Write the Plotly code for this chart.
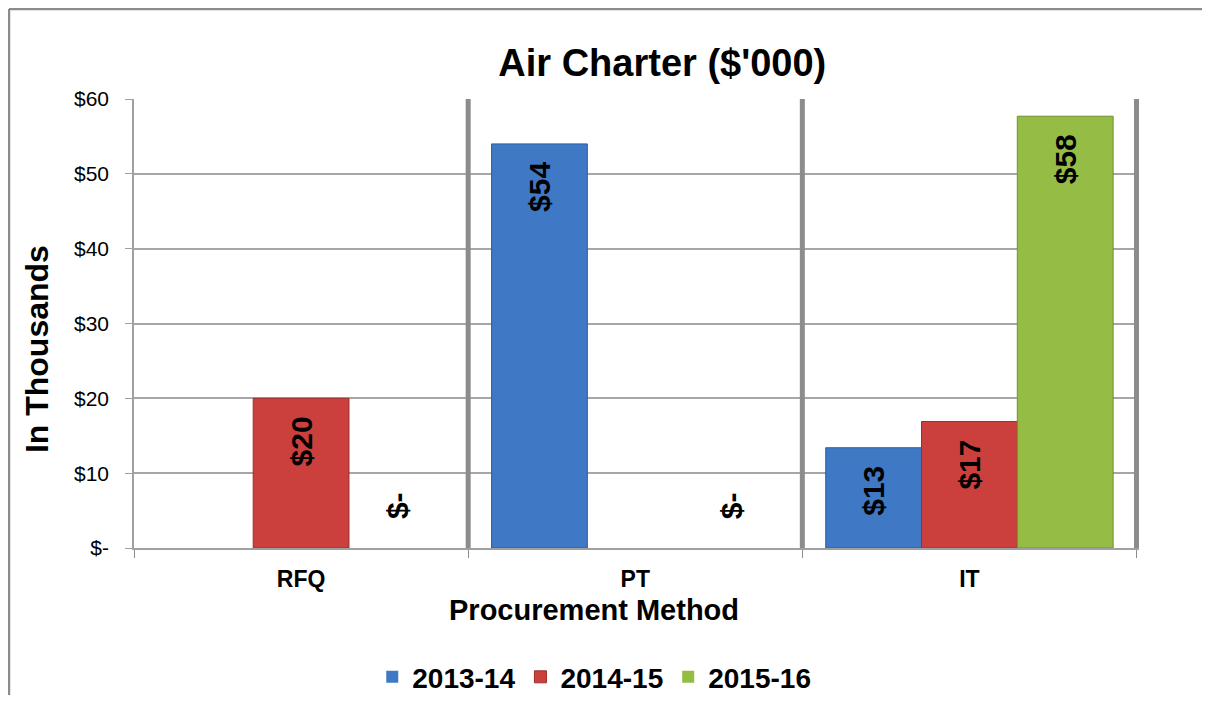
import plotly.graph_objects as go

# values in $'000, None = no bar in that slot
methods = ["RFQ", "PT", "IT"]
years = ["2013-14", "2014-15", "2015-16"]
vals_1314 = [None, 54.0, 13.4]
vals_1415 = [20.0, None, 16.9]
vals_1516 = [0.0, 0.0, 57.7]

colors = ["#3F78C4", "#CB403C", "#95BC45"]
edge_colors = ["#2F5F9E", "#9E2E2B", "#70902F"]

y_ticks = [0, 10, 20, 30, 40, 50, 60]
y_tick_text = ["$-", "$10", "$20", "$30", "$40", "$50", "$60"]

FONT = "Liberation Sans, Arial, sans-serif"


def money(v):
    if v is None:
        return ""
    if v == 0:
        return "$-"
    return "$" + str(int(round(v)))


fig = go.Figure()
series = [vals_1314, vals_1415, vals_1516]
for i, vals in enumerate(series):
    fig.add_trace(go.Bar(
        x=methods, y=vals, name=years[i],
        marker=dict(color=colors[i],
                    line=dict(color=edge_colors[i], width=[1 if v else 0 for v in vals])),
        # trailing en space keeps the label a bit below the bar top, like Excel
        text=[money(v) + "\u2002" if v else "" for v in vals],
        textposition="inside", insidetextanchor="end", textangle=-90,
        constraintext="none",
        textfont=dict(family=FONT, size=30, color="black", weight="bold"),
    ))

# zero values get a "$-" label above the baseline (Excel style)
slot = [-96, 0, 96]
for i, vals in enumerate(series):
    for m, v in zip(methods, vals):
        if v == 0:
            fig.add_annotation(x=m, y=0, xshift=slot[i], yshift=42, text=money(v),
                               textangle=-90, showarrow=False,
                               font=dict(family=FONT, size=30, color="black", weight="bold"))

# thick separators between categories
for xb in [0.5, 1.5, 2.5]:
    fig.add_shape(type="line", xref="x", yref="paper", x0=xb, x1=xb, y0=0, y1=1,
                  line=dict(color="#8C8C8C", width=5), layer="above")

# outer frame (top and left edges visible)
fig.add_shape(type="line", xref="paper", yref="paper", x0=-0.1244, x1=1.08, y0=1.2004, y1=1.2004,
              line=dict(color="#8C8C8C", width=2.5))
fig.add_shape(type="line", xref="paper", yref="paper", x0=-0.1244, x1=-0.1244, y0=1.2004, y1=-0.36,
              line=dict(color="#8C8C8C", width=2.5))

# axis titles placed as in the original (off-centre)
fig.add_annotation(text="<b>In Thousands</b>", xref="paper", yref="paper", x=-0.0965, y=0.443,
                   xanchor="center", yanchor="middle", textangle=-90, showarrow=False,
                   font=dict(family=FONT, size=32, color="black"))
fig.add_annotation(text="<b>Procurement Method</b>", xref="paper", yref="paper", x=0.4577, y=-0.138,
                   xanchor="center", yanchor="middle", showarrow=False,
                   font=dict(family=FONT, size=29, color="black"))

fig.update_layout(
    width=1194, height=687,
    margin=dict(l=126, r=63, t=91, b=147, autoexpand=False),
    paper_bgcolor="white", plot_bgcolor="white",
    barmode="group", bargap=0.14, bargroupgap=0,
    title=dict(text="<b>Air Charter ($'000)</b>", xref="container", x=0.548, xanchor="center",
               yref="container", y=0.92, yanchor="middle",
               font=dict(family=FONT, size=38, color="black")),
    legend=dict(orientation="h", xref="container", x=0.491, xanchor="center",
                yref="container", y=0.026, yanchor="middle", itemwidth=30,
                font=dict(family=FONT, size=28, color="black", weight="bold")),
    showlegend=True,
)

fig.update_xaxes(
    tickson="boundaries", ticks="outside", ticklen=8, tickcolor="#8C8C8C",
    showline=True, linecolor="#A0A0A0", linewidth=1.5, showgrid=False,
    ticklabelstandoff=10,
    tickfont=dict(family=FONT, size=23, color="black", weight="bold"),
)
fig.update_yaxes(
    range=[0, 60], tickvals=y_ticks, ticktext=y_tick_text,
    ticks="outside", ticklen=7, tickcolor="#A0A0A0", ticklabelstandoff=12,
    showline=True, linecolor="#A0A0A0", linewidth=1.5,
    showgrid=True, gridcolor="#A6A6A6", gridwidth=1.5, zeroline=False,
    tickfont=dict(family=FONT, size=21, color="black"),
)

fig.write_html("out.html")
